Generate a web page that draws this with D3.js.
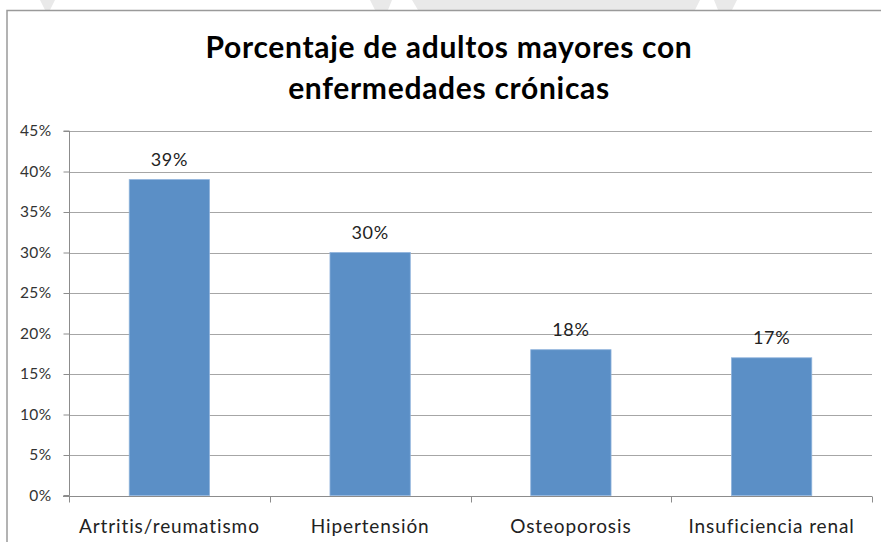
<!DOCTYPE html>
<html><head><meta charset="utf-8">
<script src="https://cdn.jsdelivr.net/npm/d3@7"></script>
<style>body{margin:0;background:#fff;}svg{display:block;}</style>
</head><body>
<svg id="c" width="881" height="542"></svg>
<script>
const categories = ["Artritis/reumatismo", "Hipertensión", "Osteoporosis", "Insuficiencia renal"];
const values = [39, 30, 18, 17];
const tickValues = [0, 5, 10, 15, 20, 25, 30, 35, 40, 45];
const titleLines = ["Porcentaje de adultos mayores con", "enfermedades crónicas"];

const svg = d3.select("#c");
const W = 881, H = 542;
const FONT = "Lato, 'Open Sans', sans-serif";
svg.append("rect").attr("width", W).attr("height", H).attr("fill", "#fff");

// faint background decoration at top
const deco = [[[40,0],[55,0],[50,10],[45,10]],[[370,0],[392,0],[388,10],[375,10]],[[412,0],[700,0],[695,10],[418,10]],[[714,0],[737,0],[732,10],[718,10]]];
svg.selectAll("path.deco").data(deco).join("path").attr("class","deco")
  .attr("d", d => "M" + d.map(p => p.join(",")).join("L") + "Z").attr("fill", "#e9e9e9");

// chart border
svg.append("path").attr("d", "M7,542V10.5H881").attr("fill","none").attr("stroke","#9a9a9a").attr("stroke-width",1.5);

const m = {left: 69, right: 872, top: 131, bottom: 495.5};
const x = d3.scaleBand().domain(categories).range([m.left, m.right]).paddingInner(0.6).paddingOuter(0.3);
const y = d3.scaleLinear().domain([0, 45]).range([m.bottom, m.top]);

// gridlines
svg.append("g").selectAll("line").data(tickValues.filter(d => d > 0)).join("line")
  .attr("x1", m.left).attr("x2", m.right)
  .attr("y1", d => Math.round(y(d)) + 0.5).attr("y2", d => Math.round(y(d)) + 0.5)
  .attr("stroke", "#a6a6a6").attr("stroke-width", 1);

// y axis
const yAxis = d3.axisLeft(y).tickValues(tickValues).tickFormat(d => d + "%").tickSize(6).tickPadding(12);
const gy = svg.append("g").attr("transform", `translate(${m.left + 0.5},0)`).call(yAxis);
gy.select(".domain").attr("stroke", "#8c8c8c").attr("d", `M-6,${y(45)}H0V${y(0)}H-6`);
gy.selectAll(".tick line").attr("stroke", "#8c8c8c");
gy.selectAll(".tick text").attr("font-family", FONT).attr("font-size", 15.5)
  .attr("letter-spacing", 0.4).attr("fill", "#333");

// bars
svg.append("g").selectAll("rect").data(values).join("rect")
  .attr("x", (d, i) => x(categories[i]))
  .attr("y", d => y(d))
  .attr("width", x.bandwidth())
  .attr("height", d => y(0) - y(d))
  .attr("fill", "#5b8fc6").attr("stroke", "#8fb3dc").attr("stroke-width", 0.8);

// x axis
const xb = d3.scaleLinear().domain([0, 4]).range([m.left, m.right]);
const gx = svg.append("g").attr("transform", `translate(0,${Math.round(y(0)) + 0.5})`);
gx.append("line").attr("x1", m.left - 6).attr("x2", m.right).attr("stroke", "#8c8c8c");
gx.selectAll("line.t").data(d3.range(5)).join("line").attr("class","t")
  .attr("x1", d => Math.round(xb(d)) + 0.5).attr("x2", d => Math.round(xb(d)) + 0.5)
  .attr("y1", 0).attr("y2", 6).attr("stroke", "#8c8c8c");
gx.selectAll("text").data(categories).join("text")
  .attr("x", d => x(d) + x.bandwidth() / 2).attr("y", 36)
  .attr("text-anchor", "middle").attr("font-family", FONT)
  .attr("font-size", 19).attr("letter-spacing", 0.9).attr("fill", "#222").text(d => d);

// data labels
svg.append("g").selectAll("text").data(values).join("text")
  .attr("x", (d, i) => x(categories[i]) + x.bandwidth() / 2)
  .attr("y", d => y(d) - 14)
  .attr("text-anchor", "middle").attr("font-family", FONT)
  .attr("font-size", 18).attr("letter-spacing", 0.6).attr("fill", "#222").text(d => d + "%");

// title
svg.append("g").selectAll("text").data(titleLines).join("text")
  .attr("x", 449).attr("y", (d, i) => 58 + i * 41)
  .attr("text-anchor", "middle").attr("font-family", FONT)
  .attr("font-weight", "bold").attr("font-size", 30).attr("letter-spacing", 0.7)
  .attr("fill", "#000").text(d => d);
</script>
</body></html>
